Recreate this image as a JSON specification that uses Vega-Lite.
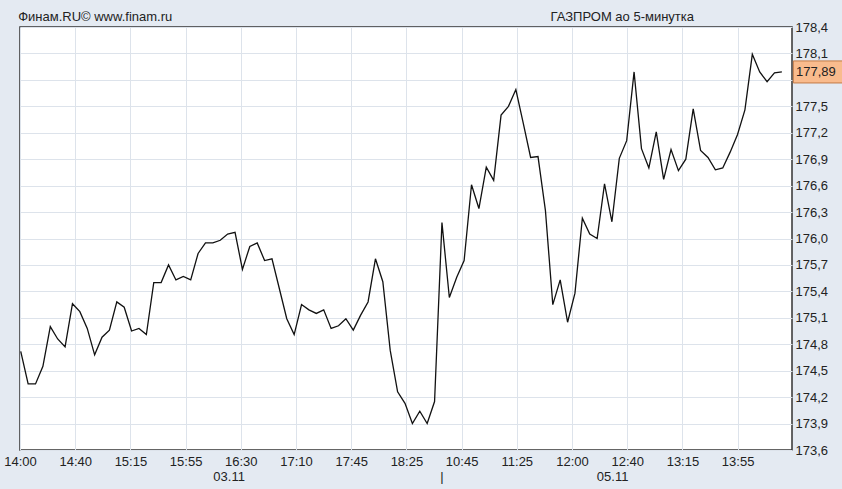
{
  "$schema": "https://vega.github.io/schema/vega-lite/v6.json",
  "width": 772,
  "height": 423,
  "autosize": {"type": "none"},
  "padding": {"left": 20, "top": 27, "right": 50, "bottom": 39},
  "background": "#e4eaf2",
  "config": {
    "view": {"fill": "white", "stroke": "#333333", "strokeWidth": 1.5},
    "font": "Liberation Sans",
    "locale": {"number": {"decimal": ",", "thousands": " ", "grouping": [3], "currency": ["", ""]}},
    "axis": {
      "labelOverlap": false,
      "labelFlush": false,
      "labelBound": false,
      "ticks": false,
      "domain": false,
      "labelFontSize": 13,
      "labelFont": "Liberation Sans",
      "labelColor": "#222222",
      "gridColor": "#dde3eb",
      "gridWidth": 1,
      "title": null
    }
  },
  "datasets": {
    "series": [
      {"i": 0, "v": 174.72}, {"i": 1, "v": 174.35}, {"i": 2, "v": 174.35}, {"i": 3, "v": 174.55},
      {"i": 4, "v": 175.00}, {"i": 5, "v": 174.86}, {"i": 6, "v": 174.77}, {"i": 7, "v": 175.26},
      {"i": 8, "v": 175.17}, {"i": 9, "v": 174.98}, {"i": 10, "v": 174.68}, {"i": 11, "v": 174.88},
      {"i": 12, "v": 174.96}, {"i": 13, "v": 175.28}, {"i": 14, "v": 175.22}, {"i": 15, "v": 174.95},
      {"i": 16, "v": 174.98}, {"i": 17, "v": 174.91}, {"i": 18, "v": 175.50}, {"i": 19, "v": 175.50},
      {"i": 20, "v": 175.70}, {"i": 21, "v": 175.53}, {"i": 22, "v": 175.57}, {"i": 23, "v": 175.53},
      {"i": 24, "v": 175.83}, {"i": 25, "v": 175.95}, {"i": 26, "v": 175.95}, {"i": 27, "v": 175.98},
      {"i": 28, "v": 176.05}, {"i": 29, "v": 176.07}, {"i": 30, "v": 175.65}, {"i": 31, "v": 175.91},
      {"i": 32, "v": 175.95}, {"i": 33, "v": 175.75}, {"i": 34, "v": 175.77}, {"i": 35, "v": 175.43},
      {"i": 36, "v": 175.09}, {"i": 37, "v": 174.91}, {"i": 38, "v": 175.25}, {"i": 39, "v": 175.19},
      {"i": 40, "v": 175.15}, {"i": 41, "v": 175.19}, {"i": 42, "v": 174.98}, {"i": 43, "v": 175.01},
      {"i": 44, "v": 175.09}, {"i": 45, "v": 174.96}, {"i": 46, "v": 175.13}, {"i": 47, "v": 175.28},
      {"i": 48, "v": 175.77}, {"i": 49, "v": 175.51}, {"i": 50, "v": 174.73}, {"i": 51, "v": 174.26},
      {"i": 52, "v": 174.13}, {"i": 53, "v": 173.90}, {"i": 54, "v": 174.04}, {"i": 55, "v": 173.90},
      {"i": 56, "v": 174.15}, {"i": 57, "v": 176.18}, {"i": 58, "v": 175.33}, {"i": 59, "v": 175.56},
      {"i": 60, "v": 175.75}, {"i": 61, "v": 176.61}, {"i": 62, "v": 176.34}, {"i": 63, "v": 176.81},
      {"i": 64, "v": 176.66}, {"i": 65, "v": 177.40}, {"i": 66, "v": 177.50}, {"i": 67, "v": 177.69},
      {"i": 68, "v": 177.31}, {"i": 69, "v": 176.92}, {"i": 70, "v": 176.93}, {"i": 71, "v": 176.32},
      {"i": 72, "v": 175.25}, {"i": 73, "v": 175.53}, {"i": 74, "v": 175.05}, {"i": 75, "v": 175.38},
      {"i": 76, "v": 176.23}, {"i": 77, "v": 176.05}, {"i": 78, "v": 176.00}, {"i": 79, "v": 176.62},
      {"i": 80, "v": 176.19}, {"i": 81, "v": 176.91}, {"i": 82, "v": 177.11}, {"i": 83, "v": 177.89},
      {"i": 84, "v": 177.02}, {"i": 85, "v": 176.80}, {"i": 86, "v": 177.21}, {"i": 87, "v": 176.67},
      {"i": 88, "v": 177.01}, {"i": 89, "v": 176.77}, {"i": 90, "v": 176.90}, {"i": 91, "v": 177.47},
      {"i": 92, "v": 177.00}, {"i": 93, "v": 176.92}, {"i": 94, "v": 176.78}, {"i": 95, "v": 176.80},
      {"i": 96, "v": 176.98}, {"i": 97, "v": 177.18}, {"i": 98, "v": 177.46}, {"i": 99, "v": 178.09},
      {"i": 100, "v": 177.89}, {"i": 101, "v": 177.78}, {"i": 102, "v": 177.88}, {"i": 103, "v": 177.89}
    ],
    "days": [
      {"i": 28.2, "label": "03.11"},
      {"i": 57.0, "label": "|"},
      {"i": 80.1, "label": "05.11"}
    ],
    "header_left": [
      {"i": -0.35, "label": "Финам.RU©  www.finam.ru"}
    ],
    "header_right": [
      {"i": 81.4, "label": "ГАЗПРОМ ао 5-минутка"}
    ]
  },
  "layer": [
    {
      "data": {"name": "series"},
      "mark": {"type": "line", "color": "#111111", "strokeWidth": 1.3},
      "encoding": {
        "x": {
          "field": "i",
          "type": "quantitative",
          "scale": {"domain": [-0.1, 104.37], "nice": false, "zero": false},
          "axis": {
            "title": null,
            "values": [-0.1, 7.37, 14.84, 22.31, 29.78, 37.25, 44.72, 52.19, 59.66, 67.13, 74.6, 82.07, 89.54, 97.01],
            "tickCount": 30,
            "labelExpr": "['14:00','14:40','15:15','15:55','16:30','17:10','17:45','18:25','10:45','11:25','12:00','12:40','13:15','13:55'][round((datum.value + 0.1) / 7.47)]",
            "labelPadding": 5
          }
        },
        "y": {
          "field": "v",
          "type": "quantitative",
          "scale": {"domain": [173.6, 178.4], "nice": false, "zero": false},
          "axis": {
            "title": null,
            "orient": "right",
            "values": [173.6, 173.9, 174.2, 174.5, 174.8, 175.1, 175.4, 175.7, 176.0, 176.3, 176.6, 176.9, 177.2, 177.5, 177.8, 178.1, 178.4],
            "tickCount": 30,
            "format": ".1f",
            "labelExpr": "(datum.value > 177.75 && datum.value < 177.85) ? '' : datum.label",
            "labelPadding": 3
          }
        }
      }
    },
    {
      "data": {"name": "series"},
      "transform": [{"filter": "datum.i == 103"}],
      "mark": {"type": "rect", "fill": "#f9bb8d", "stroke": "#c27a46", "strokeWidth": 1, "clip": false},
      "encoding": {
        "x": {"datum": 104.55, "type": "quantitative"},
        "x2": {"datum": 111.5},
        "y": {"datum": 177.765, "type": "quantitative"},
        "y2": {"datum": 178.015}
      }
    },
    {
      "data": {"name": "series"},
      "transform": [{"filter": "datum.i == 103"}],
      "mark": {"type": "text", "align": "left", "baseline": "middle", "dx": 4, "fontSize": 13, "font": "Liberation Sans", "color": "#222222", "clip": false},
      "encoding": {
        "x": {"datum": 104.37, "type": "quantitative"},
        "y": {"field": "v", "type": "quantitative"},
        "text": {"field": "v", "type": "quantitative", "format": ".2f"}
      }
    },
    {
      "data": {"name": "header_left"},
      "mark": {"type": "text", "align": "left", "baseline": "middle", "fontSize": 13, "font": "Liberation Sans", "color": "#222222", "clip": false},
      "encoding": {
        "x": {"field": "i", "type": "quantitative"},
        "y": {"datum": 178.51, "type": "quantitative"},
        "text": {"field": "label"}
      }
    },
    {
      "data": {"name": "header_right"},
      "mark": {"type": "text", "align": "center", "baseline": "middle", "fontSize": 13, "font": "Liberation Sans", "color": "#222222", "clip": false},
      "encoding": {
        "x": {"field": "i", "type": "quantitative"},
        "y": {"datum": 178.51, "type": "quantitative"},
        "text": {"field": "label"}
      }
    },
    {
      "data": {"name": "days"},
      "mark": {"type": "text", "align": "center", "baseline": "middle", "fontSize": 13, "font": "Liberation Sans", "color": "#222222", "clip": false},
      "encoding": {
        "x": {"field": "i", "type": "quantitative"},
        "y": {"datum": 173.29, "type": "quantitative"},
        "text": {"field": "label"}
      }
    }
  ]
}
